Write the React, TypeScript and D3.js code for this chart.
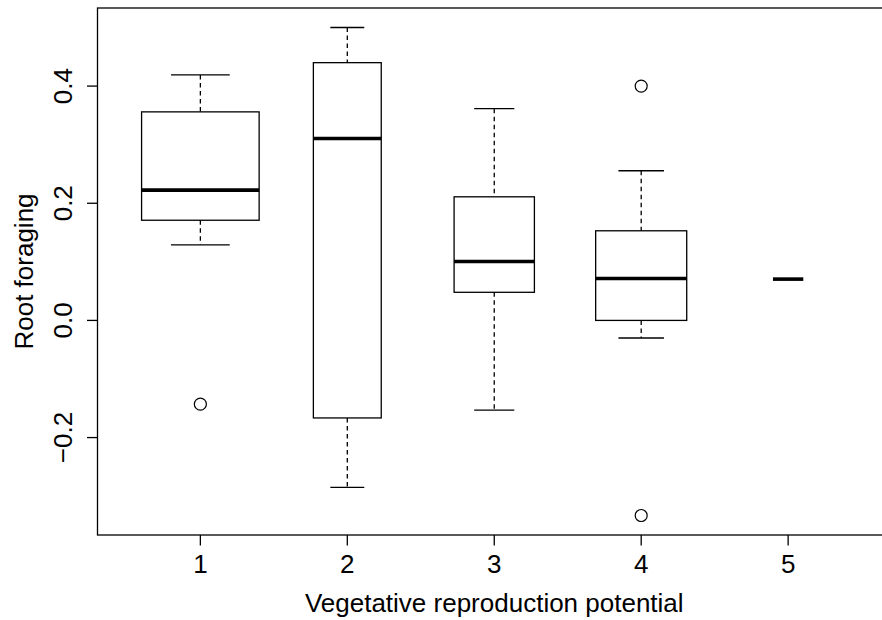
import React from "react";
import * as d3 from "d3";

const groups = ["1", "2", "3", "4", "5"];
const whiskerLow = [0.129, -0.285, -0.153, -0.03, 0.071];
const q1 = [0.171, -0.1665, 0.048, 0.0, 0.071];
const median = [0.2225, 0.3105, 0.1005, 0.0715, 0.0705];
const q3 = [0.356, 0.44, 0.211, 0.153, 0.071];
const whiskerHigh = [0.419, 0.5, 0.3615, 0.2555, 0.071];
const counts = [15, 5, 7, 9, 1];
const outlierGroup = [1, 4, 4];
const outlierValue = [-0.143, 0.4, -0.333];
const yTicks = [-0.2, 0.0, 0.2, 0.4];
const xLabel = "Vegetative reproduction potential";
const yLabel = "Root foraging";

export default function App() {
  const W = 882, H = 620;
  const left = 97.5, top = 8, bottom = 535, right = 891;
  const font = "'Liberation Sans', Arial, Helvetica, sans-serif";
  const fs = 26;

  const allVals = [...whiskerLow, ...whiskerHigh, ...outlierValue];
  const lo = d3.min(allVals)!, hi = d3.max(allVals)!;
  const pad = (hi - lo) * 0.04;
  const y = d3.scaleLinear().domain([lo - pad, hi + pad]).range([bottom, top]);
  const n = groups.length;
  const xpad = n * 0.04;
  const x = d3.scaleLinear().domain([0.5 - xpad, n + 0.5 + xpad]).range([left, right]);
  const nmax = d3.max(counts)!;
  const unit = x(1) - x(0);
  const fmt = d3.format(".1f");
  const lw = 1.3;

  return (
    <svg width={W} height={H} style={{ position: "absolute", left: 0, top: 0, background: "#fff" }}>
      <rect x={0} y={0} width={W} height={H} fill="#fff" />
      {groups.map((g, i) => {
        const cx = x(i + 1);
        const bw = 0.8 * Math.sqrt(counts[i] / nmax) * unit;
        const sw = bw / 2;
        return (
          <g key={g}>
            <line x1={cx} x2={cx} y1={y(whiskerHigh[i])} y2={y(q3[i])} stroke="#000" strokeWidth={lw} strokeDasharray="4.5,3.5" />
            <line x1={cx} x2={cx} y1={y(q1[i])} y2={y(whiskerLow[i])} stroke="#000" strokeWidth={lw} strokeDasharray="4.5,3.5" />
            <line x1={cx - sw / 2} x2={cx + sw / 2} y1={y(whiskerHigh[i])} y2={y(whiskerHigh[i])} stroke="#000" strokeWidth={lw} />
            <line x1={cx - sw / 2} x2={cx + sw / 2} y1={y(whiskerLow[i])} y2={y(whiskerLow[i])} stroke="#000" strokeWidth={lw} />
            <rect x={cx - bw / 2} y={y(q3[i])} width={bw} height={Math.max(0, y(q1[i]) - y(q3[i]))} fill="none" stroke="#000" strokeWidth={lw} />
            <line x1={cx - bw / 2} x2={cx + bw / 2} y1={y(median[i])} y2={y(median[i])} stroke="#000" strokeWidth={3.6} />
          </g>
        );
      })}
      {outlierValue.map((v, i) => (
        <circle key={i} cx={x(outlierGroup[i])} cy={y(v)} r={6} fill="none" stroke="#000" strokeWidth={1.2} />
      ))}
      <rect x={left} y={top} width={right - left} height={bottom - top} fill="none" stroke="#000" strokeWidth={lw} />
      {groups.map((g, i) => (
        <g key={"xt" + g}>
          <line x1={x(i + 1)} x2={x(i + 1)} y1={bottom} y2={bottom + 10.5} stroke="#000" strokeWidth={lw} />
          <text x={x(i + 1)} y={573} textAnchor="middle" fontFamily={font} fontSize={fs} fill="#000">{g}</text>
        </g>
      ))}
      {yTicks.map((t) => (
        <g key={"yt" + t}>
          <line x1={left - 10.5} x2={left} y1={y(t)} y2={y(t)} stroke="#000" strokeWidth={lw} />
          <text transform={`translate(72,${y(t)}) rotate(-90)`} textAnchor="middle" fontFamily={font} fontSize={fs} fill="#000">{fmt(t).replace("-", "\u2212")}</text>
        </g>
      ))}
      <text x={(left + right) / 2} y={612} textAnchor="middle" fontFamily={font} fontSize={fs} fill="#000">{xLabel}</text>
      <text transform={`translate(33,${(top + bottom) / 2}) rotate(-90)`} textAnchor="middle" fontFamily={font} fontSize={fs} fill="#000">{yLabel}</text>
    </svg>
  );
}
